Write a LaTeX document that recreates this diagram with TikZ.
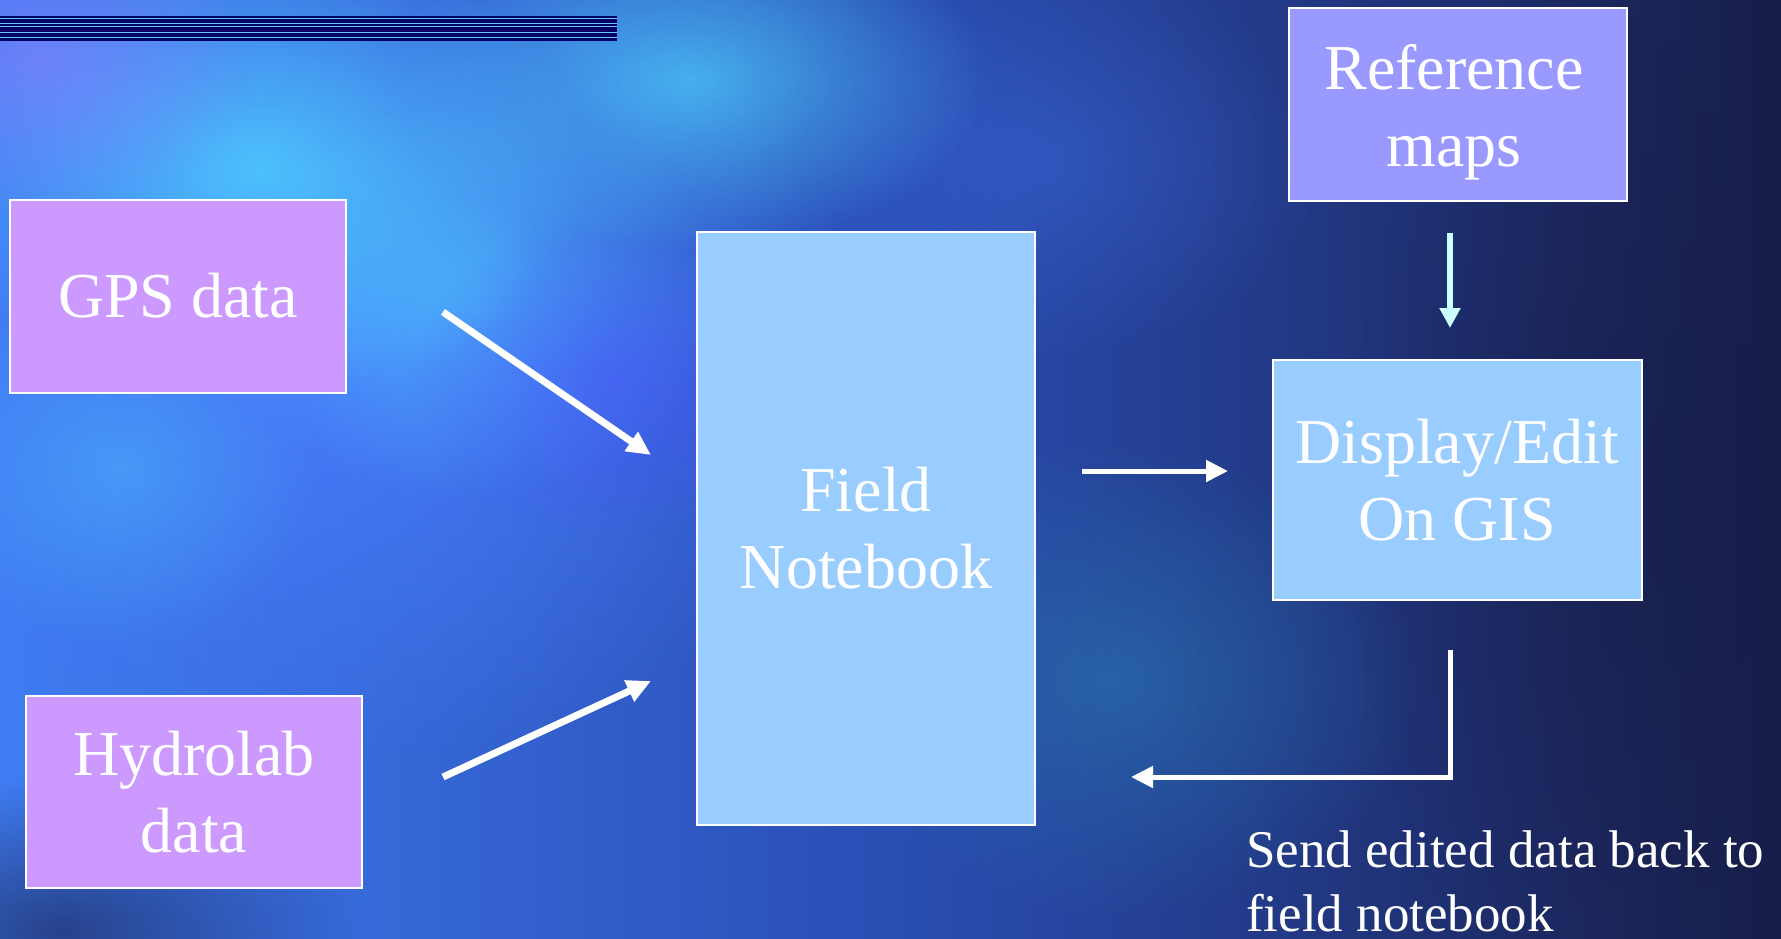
\documentclass[tikz,border=0pt]{standalone}
\usepackage{fontspec}
\setmainfont{Liberation Serif}
\usetikzlibrary{arrows.meta,fadings}
\tikzfading[name=radialfade, inner color=transparent!0, outer color=transparent!100]
\definecolor{bgL}{HTML}{3F7CF2}
\definecolor{bgM}{HTML}{2A4EB4}
\definecolor{bgR}{HTML}{181E4A}
\definecolor{glowCyan}{HTML}{50D4FF}
\definecolor{glowBlue}{HTML}{4A7CFF}
\definecolor{glowViolet}{HTML}{4A50FF}
\definecolor{glowPurple}{HTML}{8A80FF}
\definecolor{glowTeal}{HTML}{2A7AB0}
\definecolor{stripeNavy}{HTML}{000066}
\definecolor{stripeLight}{HTML}{66C8FF}
\definecolor{lilac}{HTML}{CC99FF}
\definecolor{skyblue}{HTML}{99CCFF}
\definecolor{periwinkle}{HTML}{9999FF}
\definecolor{palecyan}{HTML}{CCFFFF}
\tikzset{
  boxnode/.style={draw=white, line width=2pt, text=white, align=center,
    inner sep=0pt, font=\fontsize{64}{77}\selectfont},
  boxtext/.style={text=white, align=center, inner sep=0pt,
    font=\fontsize{64}{77}\selectfont},
  flowarrow/.style={white, line width=7pt,
    -{Triangle[length=24pt,width=22pt]}},
  refarrow/.style={palecyan, line width=6pt,
    -{Triangle[length=20pt,width=20pt]}},
  backarrow/.style={white, line width=5pt,
    -{Triangle[length=22pt,width=21pt]}},
  glow/.style={path fading=radialfade}
}
\begin{document}
\begin{tikzpicture}[x=1pt,y=-1pt]
\useasboundingbox (0,0) rectangle (1781,938);
% background
\fill[left color=bgL, right color=bgR, middle color=bgM] (0,0) rectangle (1781,938);
\fill[glowBlue, glow, opacity=0.9] (350,350) ellipse (520 and 420);
\fill[glowCyan, glow, opacity=0.8] (260,170) ellipse (330 and 230);
\fill[glowCyan, glow, opacity=0.7] (690,80) ellipse (300 and 170);
\fill[glowCyan, glow, opacity=0.5] (470,300) ellipse (260 and 200);
\fill[glowCyan, glow, opacity=0.35] (120,470) ellipse (200 and 180);
\fill[glowViolet, glow, opacity=0.5] (610,380) ellipse (200 and 160);
\fill[glowPurple, glow, opacity=0.6] (40,60) ellipse (220 and 160);
\fill[glowTeal, glow, opacity=0.55] (1120,680) ellipse (300 and 240);
\fill[glowBlue, glow, opacity=0.3] (1050,160) ellipse (280 and 200);
\fill[bgR, glow, opacity=0.7] (1700,500) ellipse (350 and 600);
\fill[bgR, glow, opacity=0.6] (60,930) ellipse (300 and 150);
% title stripes
\fill[stripeNavy] (0,16) rectangle (617,41);
\foreach \yy in {18.5,23.2,26.8,32.5,37.2}
  \fill[stripeLight] (0,\yy-0.55) rectangle (617,\yy+0.55);
% boxes
\node[boxnode, fill=lilac, minimum width=336pt, minimum height=193pt] (gps) at (178,296) {GPS data};
\node[boxnode, fill=lilac, minimum width=336pt, minimum height=192pt] (hydro) at (194,792) {Hydrolab\\data};
\node[boxnode, fill=skyblue, minimum width=338pt, minimum height=593pt] (field) at (866,528) {Field\\Notebook};
\node[boxnode, fill=periwinkle, minimum width=338pt, minimum height=193pt,
  label={[boxtext, yshift=-8pt, xshift=-4pt]center:Reference\\maps}] (ref) at (1458,104) {};
\node[boxnode, fill=skyblue, minimum width=369pt, minimum height=240pt] (gis) at (1457,480) {Display/Edit\\On GIS};
% connector end points
\coordinate (gpsS) at (443,312);
\coordinate (gpsE) at (651,455);
\coordinate (hydS) at (443,777);
\coordinate (hydE) at (651,681);
\coordinate (fnS) at (1082,471);
\coordinate (fnE) at (1228,471);
\coordinate (refS) at (1450,233);
\coordinate (refE) at (1450,328);
\coordinate (backS) at (1450,650);
\coordinate (backC) at (1450,777);
\coordinate (backE) at (1131,777);
% connectors
\draw[flowarrow] (gpsS) -- (gpsE);
\draw[flowarrow] (hydS) -- (hydE);
\draw[backarrow] (fnS) -- (fnE);
\draw[refarrow] (refS) -- (refE);
\draw[backarrow, line join=miter] (backS) -- (backC) -- (backE);
% caption
\node[text=white, anchor=north west, inner sep=0pt, align=left,
  font=\fontsize{53}{64}\selectfont] (send) at (1246,831)
  {Send edited data back to\\field notebook};
\end{tikzpicture}
\end{document}
